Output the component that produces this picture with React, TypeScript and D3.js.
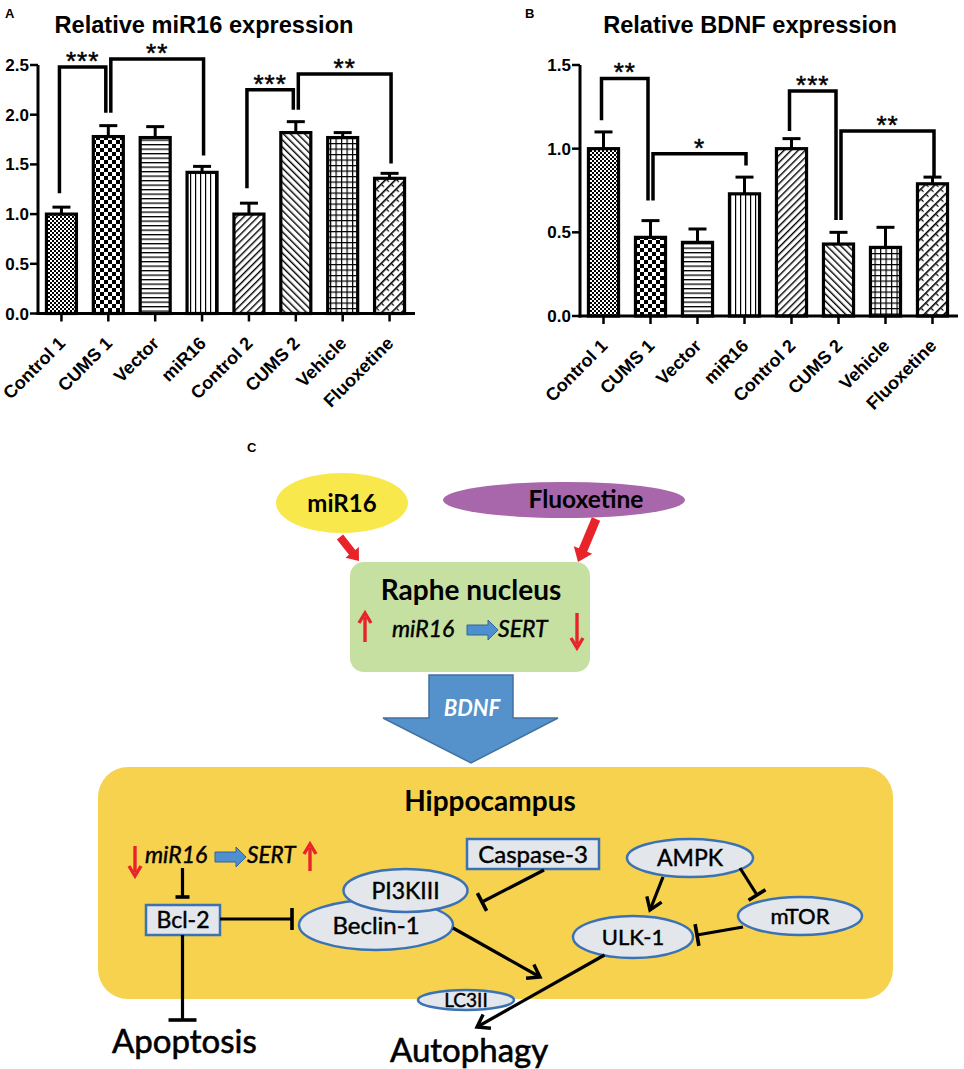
import React from 'react';
import * as d3 from 'd3';

// ---------- Data ----------
const categories = ['Control 1', 'CUMS 1', 'Vector', 'miR16', 'Control 2', 'CUMS 2', 'Vehicle', 'Fluoxetine'];
const mir16Means = [1.0, 1.78, 1.77, 1.42, 1.0, 1.82, 1.77, 1.36];
const mir16Errors = [0.07, 0.11, 0.11, 0.06, 0.11, 0.11, 0.05, 0.05];
const bdnfMeans = [1.0, 0.47, 0.44, 0.73, 1.0, 0.43, 0.41, 0.79];
const bdnfErrors = [0.1, 0.1, 0.08, 0.1, 0.06, 0.07, 0.12, 0.04];
const mir16Ticks = [0, 0.5, 1.0, 1.5, 2.0, 2.5];
const bdnfTicks = [0, 0.5, 1.0, 1.5];
const patternIds = ['pFine', 'pCheck', 'pH', 'pV', 'pDiagUp', 'pDiagDown', 'pGrid', 'pBrick'];

// significance brackets: [left index, right index, top value, left leg bottom, right leg bottom, label]
const mir16Brackets: [number, number, number, number, number, string][] = [
  [0, 1, 2.48, 1.21, 2.02, '***'],
  [1, 3, 2.56, 2.02, 1.59, '**'],
  [4, 5, 2.25, 1.26, 2.05, '***'],
  [5, 7, 2.41, 2.05, 1.51, '**'],
];
const bdnfBrackets: [number, number, number, number, number, string][] = [
  [0, 1, 1.42, 1.17, 0.69, '**'],
  [1, 3, 0.97, 0.69, 0.9, '*'],
  [4, 5, 1.345, 1.106, 0.574, '***'],
  [5, 7, 1.106, 0.574, 0.83, '**'],
];

// ---------- Diagram labels ----------
const raphe = { title: 'Raphe nucleus', gene1: 'miR16', gene2: 'SERT' };
const hippo = { title: 'Hippocampus', gene1: 'miR16', gene2: 'SERT' };

const CHART_FONT = '"Liberation Sans", Arial, sans-serif';
const DIA_FONT = 'Lato, "Open Sans", sans-serif';

// ---------- Helpers ----------
function chevron(x1: number, y1: number, x2: number, y2: number, len = 14, ang = Math.PI / 5.2) {
  const a = Math.atan2(y2 - y1, x2 - x1);
  const p1 = [x2 - len * Math.cos(a - ang), y2 - len * Math.sin(a - ang)];
  const p2 = [x2 - len * Math.cos(a + ang), y2 - len * Math.sin(a + ang)];
  return `M${p1[0]},${p1[1]}L${x2},${y2}L${p2[0]},${p2[1]}`;
}
function tBar(x1: number, y1: number, x2: number, y2: number, half: number) {
  const a = Math.atan2(y2 - y1, x2 - x1);
  const nx = -Math.sin(a), ny = Math.cos(a);
  return `M${x2 + nx * half},${y2 + ny * half}L${x2 - nx * half},${y2 - ny * half}`;
}
function blockArrow(x1: number, y1: number, x2: number, y2: number, shaft: number, head: number, headLen: number) {
  const a = Math.atan2(y2 - y1, x2 - x1);
  const ux = Math.cos(a), uy = Math.sin(a);
  const nx = -uy, ny = ux;
  const bx = x2 - ux * headLen, by = y2 - uy * headLen;
  const pts = [
    [x1 + nx * shaft / 2, y1 + ny * shaft / 2],
    [bx + nx * shaft / 2, by + ny * shaft / 2],
    [bx + nx * head / 2, by + ny * head / 2],
    [x2, y2],
    [bx - nx * head / 2, by - ny * head / 2],
    [bx - nx * shaft / 2, by - ny * shaft / 2],
    [x1 - nx * shaft / 2, y1 - ny * shaft / 2],
  ];
  return pts.map((p) => p.join(',')).join(' ');
}
function thinArrow(x: number, yFrom: number, yTo: number, color: string) {
  const dir = yTo > yFrom ? 1 : -1;
  const hl = 10, hw = 6;
  return (
    <g>
      <line x1={x} y1={yFrom} x2={x} y2={yTo - dir * 4} stroke={color} strokeWidth={3.4} />
      <path d={`M${x - hw},${yTo - dir * hl}L${x},${yTo}L${x + hw},${yTo - dir * hl}`} fill="none" stroke={color} strokeWidth={3.4} strokeLinejoin="miter" />
    </g>
  );
}

// ---------- Bar panel ----------
type PanelProps = {
  ax: number; axEnd: number; y0: number; yTop: number; maxVal: number;
  means: number[]; errors: number[]; ticks: number[];
  brackets: [number, number, number, number, number, string][];
  title: string; titleX: number; letter: string; letterX: number;
};

function BarPanel(p: PanelProps) {
  const x = d3.scaleBand<string>().domain(categories).range([p.ax, p.axEnd]).paddingInner(0.36).paddingOuter(0.18);
  const y = d3.scaleLinear().domain([0, p.maxVal]).range([p.y0, p.yTop]);
  const bw = x.bandwidth();
  const cx = (i: number) => (x(categories[i]) as number) + bw / 2;
  const fmt = d3.format('.1f');
  const lefts = new Set(p.brackets.map((b) => b[0]));
  const rights = new Set(p.brackets.map((b) => b[1]));
  return (
    <g>
      <text x={p.letterX} y={18} fontFamily={CHART_FONT} fontWeight="bold" fontSize={13}>{p.letter}</text>
      <text x={p.titleX} y={33} textAnchor="middle" fontFamily={CHART_FONT} fontWeight="bold" fontSize={23.6}>{p.title}</text>
      {p.means.map((m, i) => (
        <g key={i}>
          <line x1={cx(i)} x2={cx(i)} y1={y(m)} y2={y(m + p.errors[i])} stroke="#000" strokeWidth={3} />
          <line x1={cx(i) - 9} x2={cx(i) + 9} y1={y(m + p.errors[i])} y2={y(m + p.errors[i])} stroke="#000" strokeWidth={3} />
          <rect x={x(categories[i])} y={y(m)} width={bw} height={p.y0 - y(m)} fill={`url(#${patternIds[i]})`} stroke="#000" strokeWidth={3.2} />
        </g>
      ))}
      <line x1={p.ax} x2={p.ax} y1={p.y0 + 1.5} y2={y(p.ticks[p.ticks.length - 1])} stroke="#000" strokeWidth={3} />
      {p.ticks.map((t) => (
        <g key={t}>
          <line x1={p.ax - 8} x2={p.ax} y1={y(t)} y2={y(t)} stroke="#000" strokeWidth={2.5} />
          <text x={p.ax - 9} y={y(t) + 6} textAnchor="end" fontFamily={CHART_FONT} fontWeight="bold" fontSize={17}>{fmt(t)}</text>
        </g>
      ))}
      <line x1={p.ax - 1.5} x2={p.axEnd + 2} y1={p.y0} y2={p.y0} stroke="#000" strokeWidth={3} />
      {categories.map((c, i) => (
        <g key={c}>
          <line x1={cx(i)} x2={cx(i)} y1={p.y0} y2={p.y0 + 8} stroke="#000" strokeWidth={2.5} />
          <text transform={`translate(${cx(i) + 5},${p.y0 + 31}) rotate(-45)`} textAnchor="end" fontFamily={CHART_FONT} fontWeight="bold" fontSize={18}>{c}</text>
        </g>
      ))}
      {p.brackets.map((b, k) => {
        const [l, r, top, lb, rb, lab] = b;
        const xl = cx(l) + (rights.has(l) ? 2.5 : -2);
        const xr = cx(r) + (lefts.has(r) ? -2.5 : 1.5);
        return (
          <g key={k}>
            <path d={`M${xl},${y(lb)}L${xl},${y(top)}L${xr},${y(top)}L${xr},${y(rb)}`} fill="none" stroke="#000" strokeWidth={3.5} strokeLinejoin="miter" />
            <text x={(xl + xr) / 2} y={y(top) + 3} textAnchor="middle" fontFamily={CHART_FONT} fontSize={26} letterSpacing={1} stroke="#000" strokeWidth={0.5}>{lab}</text>
          </g>
        );
      })}
    </g>
  );
}

function Patterns() {
  return (
    <defs>
      <pattern id="pFine" patternUnits="userSpaceOnUse" width={4} height={4}>
        <rect width={4} height={4} fill="#fff" />
        <rect width={2} height={2} fill="#000" />
        <rect x={2} y={2} width={2} height={2} fill="#000" />
      </pattern>
      <pattern id="pCheck" patternUnits="userSpaceOnUse" width={8} height={8}>
        <rect width={8} height={8} fill="#fff" />
        <rect width={4} height={4} fill="#000" />
        <rect x={4} y={4} width={4} height={4} fill="#000" />
      </pattern>
      <pattern id="pH" patternUnits="userSpaceOnUse" width={4.5} height={4.5}>
        <rect width={4.5} height={4.5} fill="#fff" />
        <rect y={0} width={4.5} height={1.3} fill="#000" />
      </pattern>
      <pattern id="pV" patternUnits="userSpaceOnUse" width={5} height={5}>
        <rect width={5} height={5} fill="#fff" />
        <rect x={0} width={1.2} height={5} fill="#000" />
      </pattern>
      <pattern id="pDiagUp" patternUnits="userSpaceOnUse" width={5} height={5} patternTransform="rotate(45)">
        <rect width={5} height={5} fill="#fff" />
        <rect x={0} width={1.4} height={5} fill="#000" />
      </pattern>
      <pattern id="pDiagDown" patternUnits="userSpaceOnUse" width={5} height={5} patternTransform="rotate(-45)">
        <rect width={5} height={5} fill="#fff" />
        <rect x={0} width={1.4} height={5} fill="#000" />
      </pattern>
      <pattern id="pGrid" patternUnits="userSpaceOnUse" width={5.5} height={5.5}>
        <rect width={5.5} height={5.5} fill="#fff" />
        <rect width={5.5} height={1.2} fill="#000" />
        <rect width={1.2} height={5.5} fill="#000" />
      </pattern>
      <pattern id="pBrick" patternUnits="userSpaceOnUse" width={7} height={7} patternTransform="rotate(45)">
        <rect width={7} height={7} fill="#fff" />
        <rect x={0} width={1.6} height={7} fill="#000" />
        <rect x={1.6} y={0} width={3} height={1.2} fill="#000" />
      </pattern>
    </defs>
  );
}

// ---------- Diagram ----------
const NODE_FILL = '#e3e7ec';
const NODE_STROKE = '#3b72b3';
const RED = '#e8232a';
const TXT_STROKE = 0.45;

function Ellipse({ cx, cy, rx, ry, label, fs }: { cx: number; cy: number; rx: number; ry: number; label: string; fs: number }) {
  return (
    <g>
      <ellipse cx={cx} cy={cy} rx={rx} ry={ry} fill={NODE_FILL} stroke={NODE_STROKE} strokeWidth={2.5} />
      <text x={cx} y={cy + fs * 0.36} textAnchor="middle" fontFamily={DIA_FONT} fontSize={fs} stroke="#000" strokeWidth={TXT_STROKE}>{label}</text>
    </g>
  );
}
function Box({ x, y, w, h, label, fs }: { x: number; y: number; w: number; h: number; label: string; fs: number }) {
  return (
    <g>
      <rect x={x} y={y} width={w} height={h} fill={NODE_FILL} stroke={NODE_STROKE} strokeWidth={2.5} />
      <text x={x + w / 2} y={y + h / 2 + fs * 0.36} textAnchor="middle" fontFamily={DIA_FONT} fontSize={fs} stroke="#000" strokeWidth={TXT_STROKE}>{label}</text>
    </g>
  );
}
function Inhib({ x1, y1, x2, y2, half }: { x1: number; y1: number; x2: number; y2: number; half: number }) {
  return (
    <g>
      <line x1={x1} y1={y1} x2={x2} y2={y2} stroke="#000" strokeWidth={3.2} />
      <path d={tBar(x1, y1, x2, y2, half)} stroke="#000" strokeWidth={3.6} />
    </g>
  );
}
function Act({ x1, y1, x2, y2 }: { x1: number; y1: number; x2: number; y2: number }) {
  return (
    <g>
      <line x1={x1} y1={y1} x2={x2} y2={y2} stroke="#000" strokeWidth={3.2} />
      <path d={chevron(x1, y1, x2, y2)} fill="none" stroke="#000" strokeWidth={3.4} />
    </g>
  );
}
function BlueArrow({ x1, x2, cy }: { x1: number; x2: number; cy: number }) {
  return <polygon points={blockArrow(x1, cy, x2, cy, 10, 20, 10)} fill="#4f8fcf" stroke="#33649a" strokeWidth={1} />;
}

function Diagram() {
  return (
    <g>
      <text x={247} y={452} fontFamily={CHART_FONT} fontWeight="bold" fontSize={13}>C</text>
      <ellipse cx={342} cy={503} rx={66} ry={30} fill="#f9e84b" />
      <text x={342} y={512} textAnchor="middle" fontFamily={DIA_FONT} fontWeight="bold" fontSize={24}>miR16</text>
      <ellipse cx={564} cy={500} rx={121} ry={18} fill="#a866ab" />
      <text x={586} y={508} textAnchor="middle" fontFamily={DIA_FONT} fontWeight="bold" fontSize={24.5}>Fluoxetine</text>
      <polygon points={blockArrow(340, 537, 359, 561, 8, 17, 11)} fill={RED} />
      <polygon points={blockArrow(596, 519, 578, 562, 9, 20, 13)} fill={RED} />
      {/* raphe */}
      <rect x={350} y={562} width={240} height={110} rx={14} fill="#c6e0a1" />
      <text x={471} y={600} textAnchor="middle" fontFamily={DIA_FONT} fontWeight="bold" fontSize={28}>{raphe.title}</text>
      {thinArrow(365, 642, 613, RED)}
      <text x={392} y={637} fontFamily={DIA_FONT} fontStyle="italic" fontSize={23} stroke="#000" strokeWidth={TXT_STROKE}>{raphe.gene1}</text>
      <BlueArrow x1={467} x2={498} cy={630} />
      <text x={498} y={637} fontFamily={DIA_FONT} fontStyle="italic" fontSize={23} stroke="#000" strokeWidth={TXT_STROKE}>{raphe.gene2}</text>
      {thinArrow(577, 613, 648, RED)}
      {/* BDNF arrow */}
      <polygon points="429,675 513,675 513,718 558,718 471,763 383,718 429,718" fill="#5592cb" stroke="#41729f" strokeWidth={1.5} />
      <text x={472} y={716} textAnchor="middle" fontFamily={DIA_FONT} fontWeight="bold" fontStyle="italic" fontSize={22} fill="#fff">BDNF</text>
      {/* hippocampus */}
      <rect x={98} y={767} width={795} height={232} rx={30} fill="#f6d24f" />
      <text x={490} y={811} textAnchor="middle" fontFamily={DIA_FONT} fontWeight="bold" fontSize={28}>{hippo.title}</text>
      {thinArrow(135, 846, 876, RED)}
      <text x={145} y={863} fontFamily={DIA_FONT} fontStyle="italic" fontSize={23} stroke="#000" strokeWidth={TXT_STROKE}>{hippo.gene1}</text>
      <BlueArrow x1={215} x2={246} cy={857} />
      <text x={247} y={863} fontFamily={DIA_FONT} fontStyle="italic" fontSize={22.5} stroke="#000" strokeWidth={TXT_STROKE}>{hippo.gene2}</text>
      {thinArrow(310, 871, 844, RED)}

      <Inhib x1={182.5} y1={868} x2={182.5} y2={897} half={7} />
      <Box x={146} y={905} w={74} h={30} label="Bcl-2" fs={23} />
      <Inhib x1={220} y1={919} x2={292} y2={919} half={11} />
      <Inhib x1={182.5} y1={935} x2={182.5} y2={1020} half={14} />
      <text x={112} y={1053} fontFamily={DIA_FONT} fontSize={33} stroke="#000" strokeWidth={0.6}>Apoptosis</text>

      <Ellipse cx={376} cy={925} rx={77} ry={25} label="Beclin-1" fs={24} />
      <Ellipse cx={405.5} cy={890.5} rx={62} ry={21.5} label="PI3KIII" fs={23} />
      <Box x={467} y={839} w={132} h={30} label="Caspase-3" fs={24} />
      <Inhib x1={544} y1={870} x2={482} y2={902} half={10} />
      <Act x1={453} y1={928} x2={540} y2={977} />

      <Ellipse cx={690} cy={858} rx={63} ry={19} label="AMPK" fs={23} />
      <Ellipse cx={800} cy={916} rx={62} ry={19} label="mTOR" fs={22} />
      <Ellipse cx={633} cy={937} rx={60} ry={21} label="ULK-1" fs={22} />
      <Act x1={663} y1={877} x2={650} y2={910} />
      <Inhib x1={740} y1={868} x2={757} y2={895} half={10} />
      <Inhib x1={743} y1={927} x2={697} y2={935} half={11} />

      <Ellipse cx={466} cy={1000} rx={48} ry={10} label="LC3II" fs={19} />
      <Act x1={604.5} y1={955} x2={477} y2={1027} />
      <text x={390} y={1062} fontFamily={DIA_FONT} fontSize={33} stroke="#000" strokeWidth={0.6}>Autophagy</text>
    </g>
  );
}

export default function App() {
  return (
    <svg width={964} height={1069} viewBox="0 0 964 1069" style={{ position: 'absolute', left: 0, top: 0, background: '#fff' }}>
      <Patterns />
      <rect width={964} height={1069} fill="#fff" />
      <BarPanel ax={38} axEnd={413} y0={313.5} yTop={65} maxVal={2.5} means={mir16Means} errors={mir16Errors} ticks={mir16Ticks}
        brackets={mir16Brackets} title="Relative miR16 expression" titleX={204} letter="A" letterX={5} />
      <BarPanel ax={580} axEnd={956} y0={316} yTop={65} maxVal={1.5} means={bdnfMeans} errors={bdnfErrors} ticks={bdnfTicks}
        brackets={bdnfBrackets} title="Relative BDNF expression" titleX={750} letter="B" letterX={525} />
      <Diagram />
    </svg>
  );
}
